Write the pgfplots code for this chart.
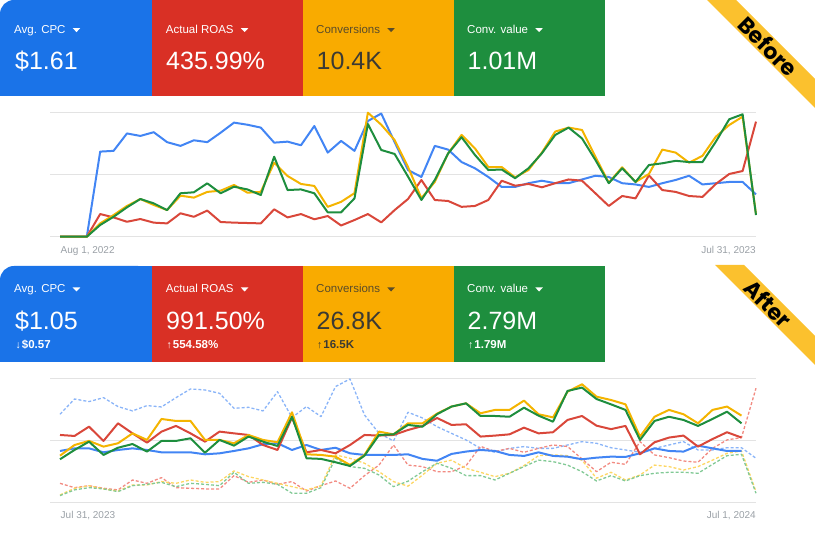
\documentclass[border=0pt]{standalone}
\usepackage{pgfplots}
\pgfplotsset{compat=1.18}
\usepackage{pgfplotstable}
\usepackage{fontspec}
\setmainfont{Liberation Sans}
\newfontfamily\ribbonfont{Poppins}

% card colours
\definecolor{cardblue}{HTML}{1A73E8}
\definecolor{cardred}{HTML}{D93025}
\definecolor{cardyellow}{HTML}{F9AB00}
\definecolor{cardgreen}{HTML}{1E8E3E}
\definecolor{darktext}{HTML}{3C3A33}
\definecolor{darklabel}{HTML}{5A4C2A}
% line colours
\definecolor{lblue}{HTML}{4285F4}
\definecolor{lred}{HTML}{D9473A}
\definecolor{lyellow}{HTML}{F4B400}
\definecolor{lgreen}{HTML}{1E8E3E}
% comparison (dashed) colours
\definecolor{pblue}{HTML}{8AB4F8}
\definecolor{pred}{HTML}{F28B82}
\definecolor{pyellow}{HTML}{FDD663}
\definecolor{pgreen}{HTML}{81C995}
\definecolor{gridgray}{HTML}{E3E3E3}
\definecolor{ticktext}{HTML}{9AA0A6}
\definecolor{ribbon}{HTML}{FBC12E}

% weekly values, 1 Aug 2022 - 31 Jul 2023 (each metric scaled to its own axis)
\pgfplotstableread{
i  cpc   roas  conv  val
0  0     0     0     0
1  0     0     0     0
2  0     0     0     0
3  68.4  18.2  10.7  9.4
4  69    15.5  17.4  16
5  83    12    24.7  23.6
6  81    14.2  30.3  30.3
7  84    11.3  25.5  26.8
8  76    10.7  21.4  21.4
9  73    18.8  33    34.9
10 77.5  16    31.4  35.7
11 76    21    36    42.9
12 83.6  11.8  37    34.9
13 91.7  11.3  41.6  40.2
14 90    11    35.4  38
15 87.7  10.7  36    33.5
16 75.6  22    59.5  64.3
17 76.4  15.5  48.8  37.5
18 73.5  18.2  42.4  38
19 89    14    40.8  34.9
20 67.6  16.6  24    19.6
21 77    9     28    19.6
22 69    13.4  35    30.8
23 93    18.2  99.7  90.6
24 99    11.5  90    69.7
25 76    21.4  77.7  66.5
26 53.6  30.3  56    48.3
27 48    45.6  31    29.5
28 73    29.5  44    45.6
29 70    28.7  67    67
30 60    24    81.8  80
31 55    24.7  71    65.7
32 48    29.5  56    53.6
33 40    45    56    54
34 40    41    47.7  47
35 43    42.4  53.6  55
36 45    39.7  67.6  67
37 43    43    84.5  81.8
38 43    46    87.7  87.7
39 46    45    85.8  79
40 49    34.9  64.3  61.7
41 48    24.7  43.4  43
42 43    32.7  55.8  55
43 42    30.8  44    44
44 40    49.3  50.4  57.6
45 43    37.5  70    59
46 45.6  36    67.6  61
47 49    32.7  59.5  60
48 42    32    65    60
49 43    42.4  80.4  76.4
50 44    50.4  89.8  94.4
51 44    52.8  96.5  98.4
52 34    92.5  18    17.4
}\beforedata

% weekly values, 31 Jul 2023 - 1 Jul 2024
\pgfplotstableread{
i  cpc   roas  conv  val
0  41.4  54.3  37.6  34.7
1  43.5  53.5  46.2  42.2
2  43.5  61    49.5  48.9
3  40.3  49.5  44.9  38.2
4  42.2  63.7  47.6  44
5  43.5  55.6  55.6  47
6  42.2  48.1  50.3  40.9
7  40.3  57    67.2  49.5
8  40.3  61.6  65.6  49.5
9  40.3  55.6  65.6  51.6
10 38.7  48.9  50.3  40
11 39.5  57    50.3  50.3
12 41.4  55.6  47.6  45.7
13 43.5  54.3  54.3  53
14 46.8  46.2  50.3  48.9
15 47.6  42.2  48.4  45.4
16 42.2  68.3  72.6  69
17 46.2  40.3  38.7  35.5
18 42.2  42.2  38.2  35
19 44    39.5  36.8  32.3
20 39.5  46.2  30.1  29.3
21 38.2  54.3  38.2  37.6
22 38.2  53.8  57    54.3
23 38.2  54.3  54.8  54.8
24 38.7  58.3  63.7  62.4
25 35    61.5  63.7  61
26 33.5  68    71.5  71
27 39    62.4  77.2  77.2
28 40.9  62.9  79.8  79.8
29 42.2  53    71.8  69.6
30 41.4  53.8  74.5  69.6
31 38.2  54.8  74.5  69
32 37.4  60.2  82    76.3
33 40.3  55.6  71    69.9
34 37.4  56.5  68.5  65
35 36.8  66.4  89.2  89.8
36 34.7  69.6  95.2  92.5
37 36    61.8  85.2  83.3
38 36.8  59    82.5  79
39 36.6  61.6  79    74.5
40 39.5  38.7  53    50.3
41 43.5  48.4  69    65.6
42 41.4  52.2  74.5  69
43 40.9  53.8  71    66.4
44 45.7  44.9  63.7  61.6
45 43.5  51    74.5  67.2
46 41.4  56.5  77.2  73.1
47 41.4  52.2  69.9  63.7
}\afterdata

% previous-period comparison on the same axis
\pgfplotstableread{
i  cpc   roas  conv  val
0  71    15.3  5.9   5.4
1  83.3  11.8  11.3  10
2  81.2  13.4  13.4  11.8
3  84.4  11.3  10.8  10.8
4  77.2  10    9.1   8.6
5  73.7  18    14    13.4
6  78    15.3  14    14.5
7  76.9  19.9  16.7  16.1
8  84.4  11.8  15.3  12.6
9  91.4  11.3  18    15.3
10 90.6  10.8  16.1  14.5
11 87.9  10.8  16.7  13.4
12 75.8  21.5  25.3  24.2
13 76.6  16.1  20.7  15.3
14 73.7  18    18    16.1
15 89.2  14.5  15.3  14.5
16 68.3  16.7  12.6  7.3
17 77.2  9.1   10    7.3
18 69.1  13.4  13.4  11.8
19 93.3  17.2  38.2  35.5
20 99.5  11.3  35.5  28.8
21 70.4  21.5  31.5  27.4
22 55.6  30    24.7  22
23 49.5  46.2  16.7  12.6
24 72.6  30    13    17
25 68    28.8  22    24.7
26 61    24.7  31.5  31.5
27 55.6  24.7  34    27.4
28 50.3  29.5  27.4  21.5
29 43.5  45.1  24.2  21.5
30 40.3  41    20.7  18
31 43.5  43.5  23.4  23.4
32 44.9  40.3  29.6  28.8
33 43.5  43.5  37.6  34
34 43.5  46.2  38.2  32.8
35 46.2  45    37.6  30
36 48.9  35    34    24.7
37 47.6  24.7  19.4  17.2
38 44    32.3  24.2  21.5
39 42.2  30.6  18    17.2
40 40.3  48.9  22    21.5
41 43.5  38.2  30    23.4
42 46.2  36    28.8  24.2
43 48.9  33.3  26    24.2
44 42.2  32.3  28.8  23.4
45 42.2  43.5  34    30.6
46 44    50.3  39.5  37.6
47 44    52.2  41.4  38.7
48 35.5  92    8.6   7.3
}\previousdata

\pgfplotsset{
  trend/.style={
    anchor=south west, scale only axis, width=706pt,
    ymin=0, ymax=100, axis line style={draw=none},
    xtick=\empty, ytick={0,50,100}, yticklabels={,,},
    ymajorgrids, major grid style={draw=gridgray, line width=1pt},
    tick style={draw=none}, clip=false,
  },
  cur/.style={line width=2pt, line join=round, mark=none},
  prev/.style={line width=1.3pt, line join=round, mark=none, dash pattern=on 3pt off 2pt},
}

\newcommand{\cardlabel}[4]{% name, x, baseline y, colour
  \node[anchor=base west, inner sep=0pt, font=\fontsize{11.5}{12}\selectfont, text=#4] (#1) at (#2,#3) {\csname lbl#1\endcsname};
  \fill[#4] ([shift={(7pt,5.2pt)}]#1.base east) -- ([shift={(14.5pt,5.2pt)}]#1.base east) -- ([shift={(10.75pt,1.2pt)}]#1.base east) -- cycle;
}
\def\lblaa{Avg. CPC}\def\lblab{Actual ROAS}\def\lblac{Conversions}\def\lblad{Conv. value}
\def\lblba{Avg. CPC}\def\lblbb{Actual ROAS}\def\lblbc{Conversions}\def\lblbd{Conv. value}
\newcommand{\deltaarrow}[1]{{\fontsize{10.5}{10}\selectfont\mdseries #1}\kern1pt}

\begin{document}
\begin{tikzpicture}
\useasboundingbox (0pt,0pt) rectangle (815pt,-534pt);
\clip (0pt,0pt) rectangle (815pt,-534pt);
\begin{scope}[x=1pt,y=-1pt]
  % ---- top scorecards ----
  \fill[cardblue, rounded corners=14pt] (0,0) rectangle (152,96);
  \fill[cardblue] (20,0) rectangle (152,96);
  \fill[cardblue] (0,20) rectangle (152,96);
  \fill[cardred] (152,0) rectangle (302.5,96);
  \fill[cardyellow] (302.5,0) rectangle (454,96);
  \fill[cardgreen] (454,0) rectangle (605,96);
  \cardlabel{aa}{14}{33.3}{white}
  \cardlabel{ab}{165.7}{33.3}{white}
  \cardlabel{ac}{316}{33.3}{darklabel}
  \cardlabel{ad}{467}{33.3}{white}
  \begin{scope}[every node/.style={anchor=base west, inner sep=0pt, font=\fontsize{25}{26}\selectfont}]
    \node[text=white] at (15,70) {\$1.61};
    \node[text=white] at (166,70) {435.99\%};
    \node[text=darktext] at (316.5,70) {10.4K};
    \node[text=white] at (467.5,70) {1.01M};
  \end{scope}
  % ---- bottom scorecards ----
  \fill[cardblue, rounded corners=14pt] (0,266) rectangle (152,362);
  \fill[cardblue] (20,266) rectangle (152,362);
  \fill[cardblue] (0,286) rectangle (152,362);
  \fill[cardred] (152,266) rectangle (302.5,362);
  \fill[cardyellow] (302.5,266) rectangle (454,362);
  \fill[cardgreen] (454,266) rectangle (605,362);
  \cardlabel{ba}{14}{292.7}{white}
  \cardlabel{bb}{165.7}{292.7}{white}
  \cardlabel{bc}{316}{292.7}{darklabel}
  \cardlabel{bd}{467}{292.7}{white}
  \begin{scope}[every node/.style={anchor=base west, inner sep=0pt, font=\fontsize{25}{26}\selectfont}]
    \node[text=white] at (15,329.5) {\$1.05};
    \node[text=white] at (166,329.5) {991.50\%};
    \node[text=darktext] at (316.5,329.5) {26.8K};
    \node[text=white] at (467.5,329.5) {2.79M};
  \end{scope}
  \begin{scope}[every node/.style={anchor=base west, inner sep=0pt, font=\fontsize{11.5}{12}\selectfont\bfseries}]
    \node[text=white] at (15.5,348.3) {\deltaarrow{↓}\$0.57};
    \node[text=white] at (166.5,348.3) {\deltaarrow{↑}554.58\%};
    \node[text=darktext] at (317,348.3) {\deltaarrow{↑}16.5K};
    \node[text=white] at (468,348.3) {\deltaarrow{↑}1.79M};
  \end{scope}
  % ---- date labels ----
  \begin{scope}[every node/.style={inner sep=0pt, text=ticktext, font=\fontsize{10}{11}\selectfont}]
    \node[anchor=base west] at (60.5,254) {Aug 1, 2022};
    \node[anchor=base east] at (756,254) {Jul 31, 2023};
    \node[anchor=base west] at (60.5,519) {Jul 31, 2023};
    \node[anchor=base east] at (756,519) {Jul 1, 2024};
  \end{scope}
  % ---- corner ribbons ----
  \fill[ribbon] (707,0) -- (736,0) -- (815,79) -- (815,108) -- cycle;
  \node[rotate=-45, inner sep=0pt, font=\ribbonfont\bfseries\fontsize{22}{22}\selectfont] at (768,46.5) {Before};
  \fill[ribbon] (715,265) -- (744,265) -- (815,336) -- (815,365) -- cycle;
  \node[rotate=-45, inner sep=0pt, font=\ribbonfont\bfseries\fontsize{22}{22}\selectfont] at (768,303.5) {After};
\end{scope}

% ---- before: 1 Aug 2022 - 31 Jul 2023 ----
\begin{axis}[trend, at={(50pt,-236.7pt)}, height=124.4pt, xmin=-0.75, xmax=52]
  \addplot[cur, lblue]   table[x=i, y=cpc]  {\beforedata};
  \addplot[cur, lred]    table[x=i, y=roas] {\beforedata};
  \addplot[cur, lyellow] table[x=i, y=conv] {\beforedata};
  \addplot[cur, lgreen]  table[x=i, y=val]  {\beforedata};
\end{axis}

% ---- after: 31 Jul 2023 - 1 Jul 2024, with previous period dashed ----
\begin{axis}[trend, at={(50pt,-502.3pt)}, height=124pt, xmin=-0.69, xmax=48]
  \addplot[prev, pblue]   table[x=i, y=cpc]  {\previousdata};
  \addplot[prev, pred]    table[x=i, y=roas] {\previousdata};
  \addplot[prev, pyellow] table[x=i, y=conv] {\previousdata};
  \addplot[prev, pgreen]  table[x=i, y=val]  {\previousdata};
  \addplot[cur, lblue]   table[x=i, y=cpc]  {\afterdata};
  \addplot[cur, lred]    table[x=i, y=roas] {\afterdata};
  \addplot[cur, lyellow] table[x=i, y=conv] {\afterdata};
  \addplot[cur, lgreen]  table[x=i, y=val]  {\afterdata};
\end{axis}
\end{tikzpicture}
\end{document}
